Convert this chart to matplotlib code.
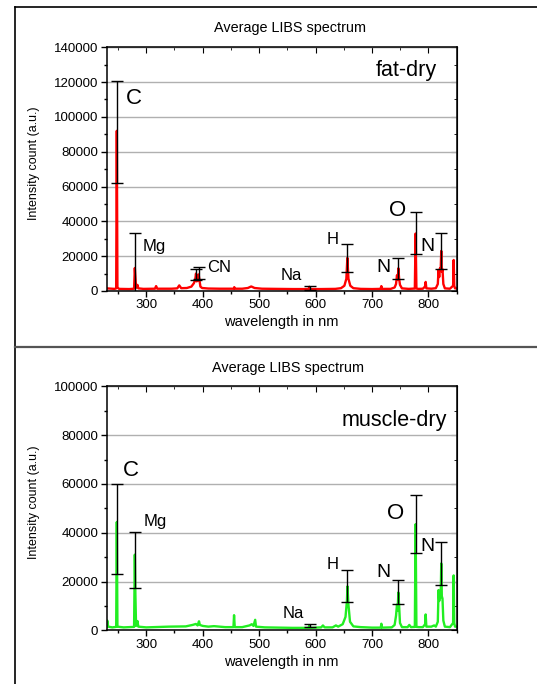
import matplotlib
matplotlib.use("Agg")
import matplotlib.pyplot as plt
from matplotlib.lines import Line2D
from matplotlib.ticker import MultipleLocator

plt.rcParams['font.family'] = ['Liberation Sans', 'DejaVu Sans']

# ---- fat-dry spectrum (vertices) ----
fat_wl = [230, 244, 246.8, 247.9, 249.0, 252, 270, 278.5, 279.8, 280.8,
          282, 284.5, 286, 295, 315.5, 317.5, 319.5, 345, 355, 358.5,
          362, 372, 380, 384.5, 386.8, 388.2, 389.5, 390.5, 391.5, 392.8,
          394.2, 396, 399, 410, 430, 455, 456, 457, 470, 480,
          486, 492, 505, 530, 560, 587.5, 589, 590.5, 610, 635,
          645, 651, 654.5, 656.3, 658.2, 661.5, 667, 680, 700, 715,
          716.5, 718, 733, 740, 742.5, 744.2, 745.6, 746.6, 748, 749.5,
          753, 765, 775.8, 777.2, 778.6, 782, 790, 793.8, 795, 796.2,
          805, 813, 816.5, 817.8, 819, 820.2, 821.6, 822.6, 823.6, 824.8,
          826.3, 829, 838, 843.6, 844.6, 845.6, 847, 850]
fat_int = [1500, 1200, 1500, 92000, 2000, 1200, 1100, 1300, 13200, 8000,
           1800, 3500, 1500, 1200, 1300, 2800, 1300, 1300, 1500, 3200,
           1600, 1700, 2500, 4500, 6500, 10000, 5500, 7500, 6000, 9500,
           6500, 2500, 1700, 1400, 1300, 1300, 2200, 1300, 1300, 1700,
           2600, 1700, 1300, 1200, 1100, 1100, 2400, 1100, 1100, 1200,
           1600, 3000, 7000, 19000, 7000, 3000, 1600, 1200, 1100, 1200,
           2800, 1200, 1200, 2000, 4000, 9000, 6500, 13000, 7000, 3500,
           1500, 1200, 1400, 33000, 1400, 1200, 1300, 2500, 5200, 1500,
           1300, 1600, 4000, 12000, 8000, 13000, 12000, 23000, 11000, 12500,
           4000, 1500, 1300, 3000, 17800, 3000, 1500, 1500]

# ---- muscle-dry spectrum ----
mus_wl = [230, 231, 232.5, 240, 246.8, 247.9, 249, 260, 278.5, 279.8,
          280.8, 282, 284.5, 286, 300, 340, 370, 382, 388, 391,
          393.5, 395, 400, 410, 420, 440, 454.5, 455.6, 456.8, 470,
          483, 487, 490, 493, 494.5, 510, 560, 587.5, 589, 590.5,
          610, 613, 616, 630, 636, 640, 648, 653, 655.5, 656.5,
          658, 661, 667, 680, 700, 715.5, 716.5, 717.5, 735, 740,
          742.5, 744.2, 745.4, 746.6, 748, 749.5, 753, 763, 766, 769,
          775.8, 777.2, 778.6, 783, 790, 794, 795, 796.2, 805, 810,
          813, 816.5, 817.8, 819, 820.2, 821.6, 822.6, 823.6, 824.8, 826.3,
          829, 838, 843.6, 844.6, 845.6, 847, 850]
mus_int = [1500, 4000, 1500, 1200, 1400, 44400, 1500, 1200, 1400, 31000,
           15000, 1800, 3800, 1500, 1200, 1500, 1600, 2200, 2600, 2000,
           3700, 2200, 1800, 1500, 1700, 1300, 1300, 6200, 1300, 1300,
           2000, 2500, 1800, 4300, 1500, 1200, 1000, 1000, 2000, 1000,
           1200, 2000, 1200, 1200, 2000, 1500, 2500, 5500, 12000, 18000,
           11000, 3500, 1600, 1300, 1100, 1100, 2700, 1100, 1200, 2200,
           6000, 10500, 8000, 15500, 10000, 3000, 1300, 1300, 2200, 1300,
           1400, 43500, 1400, 1300, 1300, 2500, 6500, 1500, 1500, 2000,
           1500, 3500, 16500, 12000, 14000, 13500, 27400, 14000, 13000, 4000,
           1500, 1300, 3000, 22500, 3000, 1500, 1500]

# ---- error bars: position, mean, half-range ----
fat_bar_wl = [248, 280.5, 388, 393, 589.5, 656.5, 746.5, 777, 822]
fat_bar_mean = [91350, 13000, 9400, 10300, 1700, 18750, 13000, 33100, 22800]
fat_bar_err = [29550, 20300, 3100, 3600, 1150, 8050, 6100, 12050, 10300]

mus_bar_wl = [248, 280.5, 589.5, 656.5, 746.5, 777, 822]
mus_bar_mean = [41640, 28810, 1900, 18220, 15700, 43500, 27380]
mus_bar_err = [18440, 11350, 550, 6620, 4920, 11830, 8680]

# ---- element labels: text, x, baseline y, size ----
fat_labels = [("C", 279, 107400, 16), ("Mg", 314, 23150, 12),
              ("CN", 428.5, 10700, 12), ("Na", 556.5, 6300, 12),
              ("H", 630.5, 27000, 12), ("N", 719.5, 11100, 14),
              ("O", 746, 43100, 16), ("N", 799, 23150, 14)]
mus_labels = [("C", 272.5, 63100, 16), ("Mg", 316.5, 42750, 12),
              ("Na", 560.5, 5170, 12), ("H", 631, 25250, 12),
              ("N", 720.5, 21700, 14), ("O", 742.5, 45750, 16),
              ("N", 799, 32370, 14)]


def draw_panel(ax, wl, inten, bar_wl, bar_mean, bar_err, labels,
               color, ymax, ystep, tag, tag_x, tag_y):
    ax.plot(wl, inten, color=color, lw=1.7, zorder=2)
    ax.errorbar(bar_wl, bar_mean, yerr=bar_err, fmt='none', ecolor='black',
                elinewidth=1.0, capsize=4, capthick=1.0, zorder=3)
    for txt, x, y, fs in labels:
        ax.text(x, y, txt, ha='center', va='baseline', fontsize=fs, zorder=4)
    ax.text(tag_x, tag_y, tag, ha='right', va='baseline', fontsize=15.5)

    ax.set_xlim(230, 850)
    ax.set_ylim(0, ymax)
    ax.xaxis.set_major_locator(MultipleLocator(100))
    ax.xaxis.set_minor_locator(MultipleLocator(50))
    ax.yaxis.set_major_locator(MultipleLocator(ystep))
    ax.yaxis.set_minor_locator(MultipleLocator(ystep / 2))
    ax.tick_params(which='major', direction='out', length=4, width=1,
                   labelsize=9.5, pad=2)
    ax.tick_params(which='minor', direction='out', length=2.5, width=1)
    ax.grid(axis='y', color='#b0b0b0', lw=1.0, zorder=0)
    ax.set_axisbelow(True)
    for sp in ax.spines.values():
        sp.set_linewidth(1.1)

    top = ax.secondary_xaxis('top')
    top.xaxis.set_major_locator(MultipleLocator(100))
    top.xaxis.set_minor_locator(MultipleLocator(50))
    top.tick_params(which='major', direction='in', length=4, labeltop=False)
    top.tick_params(which='minor', direction='in', length=2.5)
    right = ax.secondary_yaxis('right')
    right.yaxis.set_major_locator(MultipleLocator(ystep))
    right.yaxis.set_minor_locator(MultipleLocator(ystep / 2))
    right.tick_params(which='major', direction='in', length=4, labelright=False)
    right.tick_params(which='minor', direction='in', length=2.5)

    ax.set_xlabel("wavelength in nm", fontsize=10.5, labelpad=3)
    ax.set_ylabel("Intensity count (a.u.)", fontsize=9)
    ax.yaxis.set_label_coords(-0.19, 0.523)


fig = plt.figure(figsize=(5.37, 6.84), dpi=100)
ax1 = fig.add_axes([0.1987, 0.5746, 0.6518, 0.3563])
ax2 = fig.add_axes([0.1987, 0.0785, 0.6518, 0.3567])

draw_panel(ax1, fat_wl, fat_int, fat_bar_wl, fat_bar_mean, fat_bar_err,
           fat_labels, '#ff0000', 140000, 20000, "fat-dry", 815, 123500)
draw_panel(ax2, mus_wl, mus_int, mus_bar_wl, mus_bar_mean, mus_bar_err,
           mus_labels, '#22ee22', 100000, 20000, "muscle-dry", 832, 83700)

fig.text(290 / 537, 1 - 28.3 / 684, "Average LIBS spectrum", ha='center',
         va='center', fontsize=10.4)
fig.text(288 / 537, 1 - 368 / 684, "Average LIBS spectrum", ha='center',
         va='center', fontsize=10.4)

# panel frame lines
fig.add_artist(Line2D([14.7 / 537, 14.7 / 537], [0, 1 - 7 / 684],
                      color='black', lw=1.2, transform=fig.transFigure))
fig.add_artist(Line2D([14.7 / 537, 1], [1 - 7 / 684, 1 - 7 / 684],
                      color='black', lw=1.2, transform=fig.transFigure))
fig.add_artist(Line2D([14.7 / 537, 1], [1 - 346.5 / 684, 1 - 346.5 / 684],
                      color='#555555', lw=1.6, transform=fig.transFigure))

fig.savefig("out.png", dpi=100)
